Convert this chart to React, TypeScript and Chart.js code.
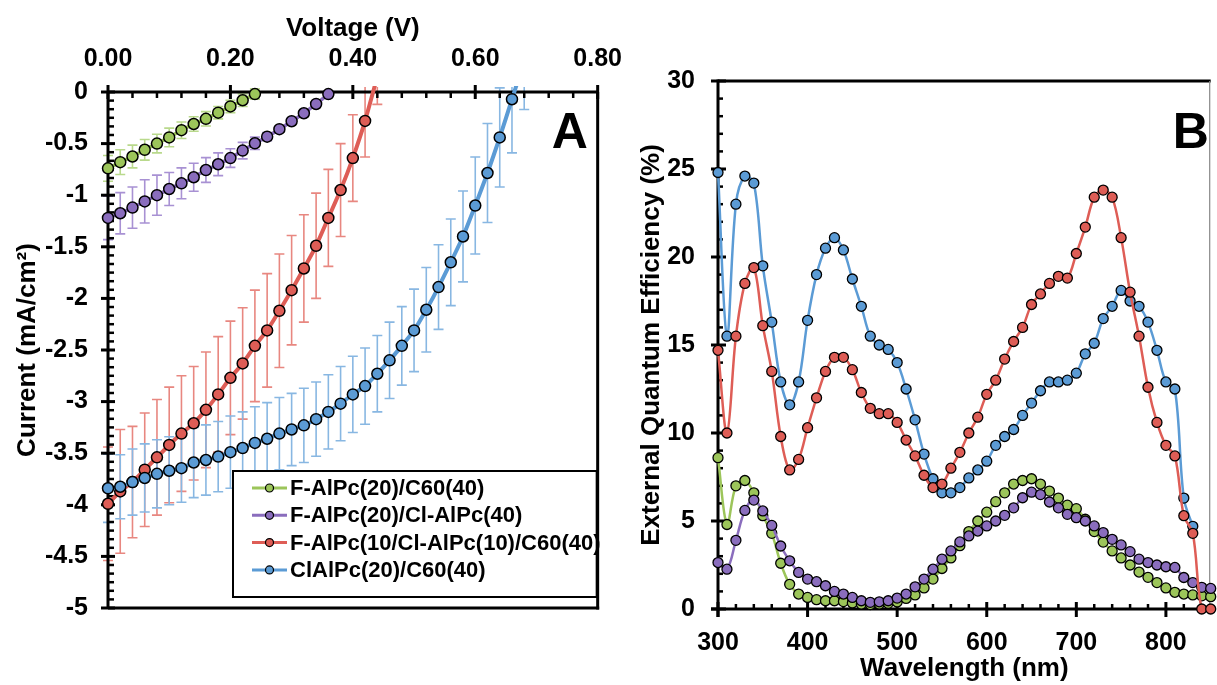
import React, { useEffect, useRef } from 'react';
import { Chart, registerables } from 'chart.js';

Chart.register(...registerables);

const FONT_FAMILY = '"Liberation Sans", Arial, Helvetica, sans-serif';

// ---------------- Panel A : J-V curves ----------------
const seriesLabels = [
  'F-AlPc(20)/C60(40)',
  'F-AlPc(20)/Cl-AlPc(40)',
  'F-AlPc(10/Cl-AlPc(10)/C60(40)',
  'ClAlPc(20)/C60(40)',
];

const voltageTicks = [0, 0.2, 0.4, 0.6, 0.8];
const currentTicks = [0, -0.5, -1, -1.5, -2, -2.5, -3, -3.5, -4, -4.5, -5];

const voltageGreen = [0, 0.02, 0.04, 0.06, 0.08, 0.1, 0.12, 0.14, 0.16, 0.18, 0.2, 0.22, 0.24];
const currentGreen = [-0.74, -0.68, -0.625, -0.56, -0.5, -0.44, -0.37, -0.31, -0.26, -0.2, -0.14, -0.08, -0.02];
const errorGreen = [0.125, 0.12, 0.11, 0.1, 0.09, 0.09, 0.08, 0.07, 0.07, 0.06, 0.06, 0.06, 0.05];

const voltagePurple = [0, 0.02, 0.04, 0.06, 0.08, 0.1, 0.12, 0.14, 0.16, 0.18, 0.2, 0.22, 0.24, 0.26, 0.28, 0.3, 0.32, 0.34, 0.36];
const currentPurple = [-1.22, -1.175, -1.12, -1.06, -1.0, -0.94, -0.885, -0.826, -0.756, -0.7, -0.64, -0.568, -0.497, -0.433, -0.36, -0.283, -0.206, -0.116, -0.02];
const errorPurple = [0.21, 0.2, 0.2, 0.21, 0.195, 0.16, 0.15, 0.135, 0.12, 0.11, 0.09, 0.08, 0.06, 0.04, 0.03, 0.03, 0.03, 0.03, 0.03];

const voltageRed = [0, 0.02, 0.04, 0.06, 0.08, 0.1, 0.12, 0.14, 0.16, 0.18, 0.2, 0.22, 0.24, 0.26, 0.28, 0.3, 0.32, 0.34, 0.36, 0.38, 0.4, 0.42, 0.44];
const currentRed = [-3.99, -3.87, -3.78, -3.66, -3.54, -3.42, -3.31, -3.21, -3.08, -2.93, -2.77, -2.63, -2.46, -2.31, -2.12, -1.92, -1.71, -1.49, -1.22, -0.95, -0.64, -0.28, 0.15];
const errorRed = [0.55, 0.6, 0.54, 0.55, 0.56, 0.56, 0.56, 0.55, 0.56, 0.56, 0.55, 0.54, 0.54, 0.55, 0.55, 0.53, 0.52, 0.51, 0.47, 0.45, 0.42, 0.35, 0.27];

const voltageBlue = [0, 0.02, 0.04, 0.06, 0.08, 0.1, 0.12, 0.14, 0.16, 0.18, 0.2, 0.22, 0.24, 0.26, 0.28, 0.3, 0.32, 0.34, 0.36, 0.38, 0.4, 0.42, 0.44, 0.46, 0.48, 0.5, 0.52, 0.54, 0.56, 0.58, 0.6, 0.62, 0.64, 0.66, 0.68];
const currentBlue = [-3.84, -3.825, -3.78, -3.74, -3.7, -3.67, -3.645, -3.59, -3.566, -3.533, -3.49, -3.45, -3.4, -3.36, -3.31, -3.27, -3.23, -3.17, -3.1, -3.02, -2.93, -2.85, -2.73, -2.6, -2.46, -2.31, -2.11, -1.89, -1.65, -1.4, -1.1, -0.785, -0.44, -0.07, 0.3];
const errorBlue = [0.33, 0.31, 0.32, 0.33, 0.33, 0.33, 0.33, 0.34, 0.34, 0.34, 0.35, 0.35, 0.35, 0.35, 0.35, 0.35, 0.36, 0.36, 0.36, 0.36, 0.37, 0.37, 0.37, 0.37, 0.38, 0.4, 0.41, 0.41, 0.42, 0.44, 0.47, 0.48, 0.48, 0.52, 0.47];

// ---------------- Panel B : EQE spectra ----------------
const wavelengthTicks = [300, 400, 500, 600, 700, 800];
const eqeTicks = [0, 5, 10, 15, 20, 25, 30];

const wavelengths = [300, 310, 320, 330, 340, 350, 360, 370, 380, 390, 400, 410, 420, 430, 440, 450, 460, 470, 480, 490, 500, 510, 520, 530, 540, 550, 560, 570, 580, 590, 600, 610, 620, 630, 640, 650, 660, 670, 680, 690, 700, 710, 720, 730, 740, 750, 760, 770, 780, 790, 800, 810, 820, 830, 840, 850];
const wavelengthsBlue = [300, 310, 320, 330, 340, 350, 360, 370, 380, 390, 400, 410, 420, 430, 440, 450, 460, 470, 480, 490, 500, 510, 520, 530, 540, 550, 560, 570, 580, 590, 600, 610, 620, 630, 640, 650, 660, 670, 680, 690, 700, 710, 720, 730, 740, 750, 760, 770, 780, 790, 800, 810, 820, 830];

const eqeGreen = [8.6, 4.8, 7.0, 7.3, 6.6, 5.3, 4.3, 2.6, 1.4, 0.85, 0.66, 0.53, 0.47, 0.47, 0.42, 0.34, 0.28, 0.25, 0.28, 0.32, 0.4, 0.6, 0.8, 1.2, 1.7, 2.3, 2.9, 3.6, 4.4, 5.0, 5.5, 6.1, 6.6, 7.1, 7.3, 7.4, 7.1, 6.7, 6.3, 5.9, 5.7, 5.1, 4.4, 3.8, 3.3, 2.9, 2.5, 2.1, 1.8, 1.5, 1.2, 0.95, 0.85, 0.8, 0.75, 0.7];
const eqePurple = [2.64, 2.26, 3.9, 5.6, 6.19, 5.57, 4.75, 3.58, 2.74, 2.08, 1.7, 1.55, 1.32, 1.0, 0.85, 0.66, 0.47, 0.38, 0.41, 0.47, 0.62, 0.85, 1.26, 1.7, 2.26, 2.83, 3.3, 3.81, 4.15, 4.43, 4.72, 5.0, 5.32, 5.75, 6.32, 6.64, 6.5, 6.08, 5.75, 5.38, 5.19, 5.0, 4.72, 4.34, 3.96, 3.64, 3.26, 2.83, 2.64, 2.5, 2.4, 2.36, 1.79, 1.5, 1.23, 1.17];
const eqeRed = [14.7, 10.0, 15.5, 18.5, 19.4, 16.1, 13.5, 9.8, 7.9, 8.5, 10.3, 12.0, 13.5, 14.3, 14.3, 13.6, 12.3, 11.4, 11.1, 11.1, 10.6, 9.6, 8.7, 7.6, 6.9, 7.1, 8.0, 8.9, 10.0, 10.9, 12.2, 13.0, 14.2, 15.2, 16.0, 17.3, 17.9, 18.5, 18.9, 18.8, 20.2, 21.7, 23.4, 23.8, 23.4, 21.1, 18.0, 15.5, 12.6, 10.6, 9.3, 8.7, 5.3, 4.3, 0, 0];
const eqeBlue = [24.8, 15.5, 23.0, 24.6, 24.2, 19.5, 16.3, 12.9, 11.6, 12.9, 16.4, 19.0, 20.5, 21.1, 20.4, 18.75, 17.2, 15.5, 15.0, 14.75, 14.0, 12.5, 10.75, 8.8, 7.4, 6.6, 6.6, 6.9, 7.45, 7.9, 8.4, 9.3, 9.8, 10.2, 11.0, 11.7, 12.4, 12.9, 12.9, 13.0, 13.4, 14.5, 15.1, 16.5, 17.2, 18.1, 17.5, 17.2, 16.3, 14.7, 12.9, 12.5, 6.3, 4.7];

// ---------------- styles ----------------
const COLORS = {
  green: '#9CC55A',
  purple: '#8A6DBD',
  red: '#DE5D56',
  blue: '#5B9BD5',
  greenErr: '#B9D98C',
  purpleErr: '#A891D3',
  redErr: '#E88780',
  blueErr: '#88B7E2',
};

const tickFont = { family: FONT_FAMILY, size: 25, weight: 'bold' as const };
const titleFont = { family: FONT_FAMILY, size: 26, weight: 'bold' as const };

function toPoints(xs: number[], ys: number[]) {
  return xs.map((x, i) => ({ x, y: ys[i] }));
}

function stepValues(start: number, end: number, step: number, exclude: number[]): number[] {
  const out: number[] = [];
  const n = Math.round((end - start) / step);
  for (let i = 0; i <= n; i++) {
    const v = start + i * step;
    if (!exclude.some((e) => Math.abs(e - v) < step * 0.3)) out.push(v);
  }
  return out;
}

function drawTicks(
  chart: any,
  scaleId: string,
  side: 'top' | 'bottom' | 'left',
  majors: number[],
  minors: number[],
  majorOut: number,
  majorIn: number,
  minorIn: number,
) {
  const { ctx, chartArea: ca } = chart;
  const s = chart.scales[scaleId];
  ctx.save();
  ctx.strokeStyle = '#000';
  const seg = (v: number, a: number, b: number, w: number) => {
    const p = s.getPixelForValue(v);
    ctx.lineWidth = w;
    ctx.beginPath();
    if (side === 'left') {
      ctx.moveTo(ca.left - a, p);
      ctx.lineTo(ca.left + b, p);
    } else if (side === 'top') {
      ctx.moveTo(p, ca.top - a);
      ctx.lineTo(p, ca.top + b);
    } else {
      ctx.moveTo(p, ca.bottom + a);
      ctx.lineTo(p, ca.bottom - b);
    }
    ctx.stroke();
  };
  minors.forEach((v) => seg(v, 0, minorIn, 2.5));
  majors.forEach((v) => seg(v, majorOut, majorIn, 3));
  ctx.restore();
}

function line(ctx: CanvasRenderingContext2D, x1: number, y1: number, x2: number, y2: number, w: number, c: string) {
  ctx.strokeStyle = c;
  ctx.lineWidth = w;
  ctx.beginPath();
  ctx.moveTo(x1, y1);
  ctx.lineTo(x2, y2);
  ctx.stroke();
}

const errorSets = [
  { xs: voltageGreen, ys: currentGreen, errs: errorGreen, color: COLORS.greenErr },
  { xs: voltagePurple, ys: currentPurple, errs: errorPurple, color: COLORS.purpleErr },
  { xs: voltageRed, ys: currentRed, errs: errorRed, color: COLORS.redErr },
  { xs: voltageBlue, ys: currentBlue, errs: errorBlue, color: COLORS.blueErr },
];
const legendColors = [COLORS.green, COLORS.purple, COLORS.red, COLORS.blue];

const decorA = {
  id: 'decorA',
  beforeDatasetsDraw(chart: any) {
    const { ctx, chartArea: ca } = chart;
    const xs = chart.scales.x;
    const ys = chart.scales.y;
    // error bars
    ctx.save();
    ctx.beginPath();
    ctx.rect(ca.left - 10, ca.top - 5, ca.right - ca.left + 20, ca.bottom - ca.top + 10);
    ctx.clip();
    errorSets.forEach((set) => {
      ctx.strokeStyle = set.color;
      ctx.lineWidth = 1.6;
      ctx.beginPath();
      set.xs.forEach((xv, i) => {
        const px = xs.getPixelForValue(xv);
        const t = ys.getPixelForValue(set.ys[i] + set.errs[i]);
        const b = ys.getPixelForValue(set.ys[i] - set.errs[i]);
        ctx.moveTo(px, t);
        ctx.lineTo(px, b);
        ctx.moveTo(px - 5, t);
        ctx.lineTo(px + 5, t);
        ctx.moveTo(px - 5, b);
        ctx.lineTo(px + 5, b);
      });
      ctx.stroke();
    });
    ctx.restore();
    // frame
    ctx.save();
    line(ctx, ca.left, ca.top, ca.right, ca.top, 3, '#000');
    line(ctx, ca.left, ca.top, ca.left, ca.bottom, 3, '#000');
    line(ctx, ca.right, ca.top, ca.right, ca.bottom + 1.5, 3, '#000');
    line(ctx, ca.left, ca.bottom, ca.right + 1.5, ca.bottom, 3, '#000');
    ctx.restore();
    drawTicks(chart, 'x', 'top', voltageTicks, stepValues(0, 0.8, 0.04, voltageTicks), 7, 7, 6);
    drawTicks(chart, 'y', 'left', currentTicks, stepValues(-5, 0, 0.5 / 6, currentTicks), 7, 7, 6);
  },
  afterDatasetsDraw(chart: any) {
    const { ctx, chartArea: ca } = chart;
    ctx.save();
    // legend box
    const bx = ca.left + 125;
    const by = ca.top + 379;
    const bw = ca.right - bx - 1;
    const bh = 126;
    ctx.fillStyle = '#fff';
    ctx.fillRect(bx, by, bw, bh);
    ctx.strokeStyle = '#000';
    ctx.lineWidth = 2;
    ctx.strokeRect(bx, by, bw, bh);
    ctx.font = `bold 22px ${FONT_FAMILY}`;
    ctx.textBaseline = 'middle';
    ctx.textAlign = 'left';
    seriesLabels.forEach((label, i) => {
      const cy = by + 17 + i * 27.3;
      line(ctx, bx + 19, cy, bx + 54, cy, 3, legendColors[i]);
      ctx.beginPath();
      ctx.arc(bx + 36.5, cy, 4, 0, Math.PI * 2);
      ctx.fillStyle = legendColors[i];
      ctx.fill();
      ctx.lineWidth = 1.2;
      ctx.strokeStyle = '#000';
      ctx.stroke();
      ctx.fillStyle = '#000';
      ctx.fillText(label, bx + 57, cy + 1);
    });
    // panel letter
    ctx.font = `bold 50px ${FONT_FAMILY}`;
    ctx.textBaseline = 'alphabetic';
    ctx.fillText('A', ca.right - 46, ca.top + 56);
    ctx.restore();
  },
};

const decorB = {
  id: 'decorB',
  beforeDatasetsDraw(chart: any) {
    const { ctx, chartArea: ca } = chart;
    ctx.save();
    line(ctx, ca.left, ca.top, ca.right, ca.top, 3, '#000');
    line(ctx, ca.right - 1, ca.top, ca.right - 1, ca.bottom, 1.2, '#888');
    line(ctx, ca.left - 7, ca.bottom, ca.right, ca.bottom, 3, '#000');
    line(ctx, ca.left, ca.top - 1.5, ca.left, ca.bottom + 8, 3, '#000');
    ctx.restore();
    drawTicks(chart, 'x', 'bottom', wavelengthTicks, stepValues(300, 840, 20, wavelengthTicks), 8, 7, 5);
    drawTicks(chart, 'y', 'left', eqeTicks, stepValues(0, 30, 1, eqeTicks), 7, 8, 5);
  },
  afterDatasetsDraw(chart: any) {
    const { ctx, chartArea: ca } = chart;
    ctx.save();
    ctx.fillStyle = '#000';
    ctx.font = `bold 50px ${FONT_FAMILY}`;
    ctx.textBaseline = 'alphabetic';
    ctx.textAlign = 'left';
    ctx.fillText('B', ca.right - 38, ca.top + 67);
    ctx.restore();
  },
};

function jvDataset(label: string, xs: number[], ys: number[], color: string, width: number, order: number) {
  return {
    label,
    data: toPoints(xs, ys),
    borderColor: color,
    backgroundColor: color,
    pointBackgroundColor: color,
    pointBorderColor: '#000',
    pointBorderWidth: 1.5,
    pointRadius: 5.5,
    borderWidth: width,
    tension: 0.15,
    order,
    clip: { left: 10, top: 6, right: 10, bottom: 10 },
  };
}

function eqeDataset(label: string, xs: number[], ys: number[], color: string, order: number) {
  return {
    label,
    data: toPoints(xs, ys),
    borderColor: color,
    backgroundColor: color,
    pointBackgroundColor: color,
    pointBorderColor: '#000',
    pointBorderWidth: 1.3,
    pointRadius: 5,
    borderWidth: 2.5,
    tension: 0.35,
    order,
    clip: 8,
  };
}

function configA(): any {
  return {
    type: 'line',
    data: {
      datasets: [
        jvDataset(seriesLabels[0], voltageGreen, currentGreen, COLORS.green, 3.5, 4),
        jvDataset(seriesLabels[1], voltagePurple, currentPurple, COLORS.purple, 3.5, 3),
        jvDataset(seriesLabels[2], voltageRed, currentRed, COLORS.red, 4, 2),
        jvDataset(seriesLabels[3], voltageBlue, currentBlue, COLORS.blue, 4, 1),
      ],
    },
    options: {
      responsive: false,
      animation: false,
      events: [],
      layout: { padding: { left: 0, top: 0, right: 42, bottom: 77 } },
      plugins: { legend: { display: false }, tooltip: { enabled: false } },
      scales: {
        x: {
          type: 'linear',
          position: 'top',
          min: 0,
          max: 0.8,
          afterBuildTicks: (s: any) => {
            s.ticks = voltageTicks.map((value) => ({ value }));
          },
          afterFit: (s: any) => {
            s.height = 92;
          },
          grid: { display: false, drawTicks: false },
          border: { display: false },
          ticks: {
            padding: 18,
            font: tickFont,
            color: '#000',
            autoSkip: false,
            maxRotation: 0,
            callback: (v: any) => Number(v).toFixed(2),
          },
          title: { display: true, text: 'Voltage (V)', font: titleFont, color: '#000', padding: { top: 13, bottom: 0 } },
        },
        y: {
          type: 'linear',
          position: 'left',
          min: -5,
          max: 0,
          afterBuildTicks: (s: any) => {
            s.ticks = currentTicks.map((value) => ({ value }));
          },
          afterFit: (s: any) => {
            s.width = 108;
          },
          grid: { display: false, drawTicks: false },
          border: { display: false },
          ticks: {
            padding: 20,
            font: tickFont,
            color: '#000',
            autoSkip: false,
            callback: (v: any) => (Number(v) === 0 ? '0' : String(v)),
          },
          title: { display: true, text: 'Current (mA/cm²)', font: titleFont, color: '#000', padding: { top: 12, bottom: 0 } },
        },
      },
    },
    plugins: [decorA],
  };
}

function configB(): any {
  return {
    type: 'line',
    data: {
      datasets: [
        eqeDataset(seriesLabels[0], wavelengths, eqeGreen, COLORS.green, 4),
        eqeDataset(seriesLabels[1], wavelengths, eqePurple, COLORS.purple, 3),
        eqeDataset(seriesLabels[2], wavelengths, eqeRed, COLORS.red, 1),
        eqeDataset(seriesLabels[3], wavelengthsBlue, eqeBlue, COLORS.blue, 2),
      ],
    },
    options: {
      responsive: false,
      animation: false,
      events: [],
      layout: { padding: { left: 0, top: 81, right: 0, bottom: 0 } },
      plugins: { legend: { display: false }, tooltip: { enabled: false } },
      scales: {
        x: {
          type: 'linear',
          position: 'bottom',
          min: 300,
          max: 850,
          afterBuildTicks: (s: any) => {
            s.ticks = wavelengthTicks.map((value) => ({ value }));
          },
          afterFit: (s: any) => {
            s.height = 76;
          },
          grid: { display: false, drawTicks: false },
          border: { display: false },
          ticks: { padding: 19, font: tickFont, color: '#000', autoSkip: false, maxRotation: 0 },
          title: { display: true, text: 'Wavelength (nm)', font: titleFont, color: '#000', padding: { top: 0, bottom: 1 } },
        },
        y: {
          type: 'linear',
          position: 'left',
          min: 0,
          max: 30,
          afterBuildTicks: (s: any) => {
            s.ticks = eqeTicks.map((value) => ({ value }));
          },
          afterFit: (s: any) => {
            s.width = 108;
          },
          grid: { display: false, drawTicks: false },
          border: { display: false },
          ticks: { padding: 23, font: tickFont, color: '#000', autoSkip: false },
          title: {
            display: true,
            text: 'External Quantum Efficiency (%)',
            font: titleFont,
            color: '#000',
            padding: { top: 26, bottom: 0 },
          },
        },
      },
    },
    plugins: [decorB],
  };
}

export default function App() {
  const refA = useRef<HTMLCanvasElement>(null);
  const refB = useRef<HTMLCanvasElement>(null);

  useEffect(() => {
    const a = new Chart(refA.current as HTMLCanvasElement, configA());
    const b = new Chart(refB.current as HTMLCanvasElement, configB());
    return () => {
      a.destroy();
      b.destroy();
    };
  }, []);

  return (
    <div style={{ position: 'fixed', left: 0, top: 0, width: 1217, height: 685, background: '#fff', overflow: 'hidden' }}>
      <canvas ref={refA} width={640} height={685} style={{ position: 'absolute', left: 0, top: 0, width: 640, height: 685 }} />
      <canvas ref={refB} width={607} height={685} style={{ position: 'absolute', left: 610, top: 0, width: 607, height: 685 }} />
    </div>
  );
}
